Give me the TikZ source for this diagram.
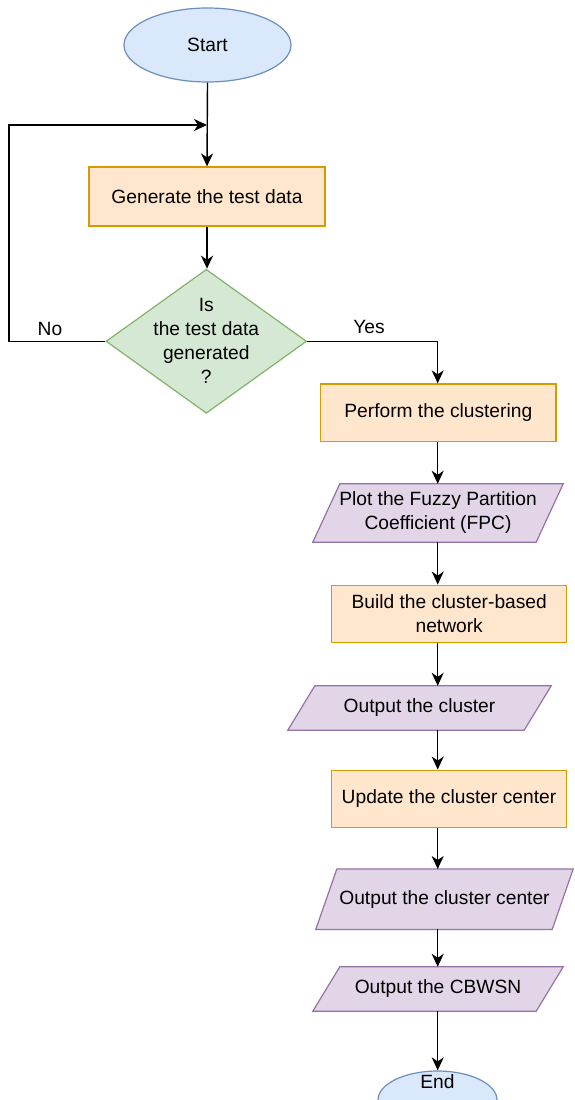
\documentclass[tikz,border=0pt]{standalone}
\usepackage{fontspec}
\setmainfont{Liberation Sans}
\usetikzlibrary{shapes.geometric,arrows.meta,backgrounds}

\definecolor{blueF}{HTML}{DAE8FC}\definecolor{blueD}{HTML}{6C8EBF}
\definecolor{orangeF}{HTML}{FFE6CC}\definecolor{orangeD}{HTML}{D79B00}
\definecolor{greenF}{HTML}{D5E8D4}\definecolor{greenD}{HTML}{82B366}
\definecolor{purpleF}{HTML}{E1D5E7}\definecolor{purpleD}{HTML}{9673A6}

\tikzset{
  every node/.style={font=\fontsize{19.2}{24}\selectfont, inner sep=0pt, align=center},
  terminal/.style={ellipse, draw=blueD, fill=blueF, line width=1.2pt},
  process/.style={rectangle, draw=orangeD, fill=orangeF, line width=1.2pt},
  decision/.style={diamond, draw=greenD, fill=greenF, line width=1.2pt},
  iotext/.style={rectangle, draw=none},
  ioshape/.style={draw=purpleD, fill=purpleF, line width=1.2pt, line join=miter},
  arr/.style={draw=black, line width=1.4pt, -{Stealth[length=13pt,width=12pt,inset=4pt]}},
}

% parallelogram behind a text node: top edge shifted right by the slant
\newcommand\ioframe[2]{%
  \path[ioshape] ([xshift=#2pt]#1.north west) -- (#1.north east)
    -- ([xshift=-#2pt]#1.south east) -- (#1.south west) -- cycle;}

\begin{document}
\begin{tikzpicture}[x=1pt,y=-1pt]
\useasboundingbox (0,0) rectangle (574,1100);

% nodes
\node[terminal, minimum width=167pt, minimum height=74pt] (start) at (207.5,45) {Start};
\node[process, minimum width=236pt, minimum height=59pt] (gen) at (207,196.5) {Generate the test data};
\node[decision, minimum width=200.6pt, minimum height=144pt] (dec) at (206.3,341.3) {};
\node (dectext) at (dec.center) {Is\\the test data\\generated\\?};
\node[process, minimum width=235.3pt, minimum height=57.7pt] (perf) at (438.3,412.8) {Perform the clustering};
\node[iotext, minimum width=250pt, minimum height=58pt] (fpc) at (438,513) {Plot the Fuzzy Partition\\Coefficient (FPC)};
\node[process, minimum width=235pt, minimum height=57.7pt] (build) at (449.2,614) {Build the cluster-based\\network};
\node[iotext, minimum width=263pt, minimum height=44pt] (outc) at (419.5,708) {Output the cluster};
\node[process, minimum width=235.7pt, minimum height=57.7pt] (upd) at (449,799) {Update the cluster center};
\node[iotext, minimum width=257pt, minimum height=60pt] (outcc) at (444.5,899.2) {Output the cluster center};
\node[iotext, minimum width=250pt, minimum height=44pt] (cbwsn) at (438,989) {Output the CBWSN};
\node[terminal, minimum width=119pt, minimum height=58pt] (end) at (437.5,1100) {};
\node (endtext) at (437.5,1082) {End};

\node (no) at (50,329) {No};
\node (yes) at (369,327) {Yes};

% parallelogram outlines under the text
\begin{pgfonlayer}{background}
  \ioframe{fpc}{27}
  \ioframe{outc}{27}
  \ioframe{outcc}{21}
  \ioframe{cbwsn}{27}
\end{pgfonlayer}

% helper points
\coordinate (spine) at (437.7,0);
\coordinate (merge) at (207,125);
\coordinate (loopcorner) at (9,125);

% connectors
\draw[arr] (start.south) -- (gen.north);
\draw[arr] (gen.south) -- (gen.south |- dec.north);
\draw[arr] (dec.west) -| (loopcorner) -- (merge);
\draw[arr] (dec.east) -| (perf.north -| spine);
\draw[arr] (perf.south -| spine) -- (fpc.north -| spine);
\draw[arr] (fpc.south -| spine) -- (build.north -| spine);
\draw[arr] (build.south -| spine) -- (outc.north -| spine);
\draw[arr] (outc.south -| spine) -- (upd.north -| spine);
\draw[arr] (upd.south -| spine) -- (outcc.north -| spine);
\draw[arr] (outcc.south -| spine) -- (cbwsn.north -| spine);
\draw[arr] (cbwsn.south -| spine) -- (end.north -| spine);
\end{tikzpicture}
\end{document}
